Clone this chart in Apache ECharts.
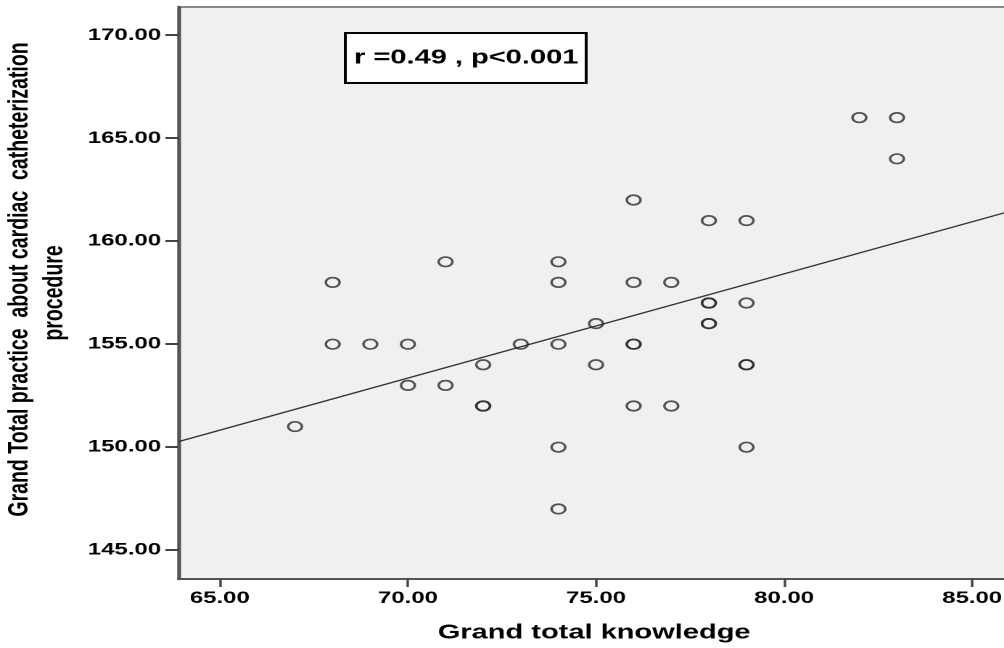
<!DOCTYPE html>
<html>
<head>
<meta charset="utf-8">
<script src="https://cdn.jsdelivr.net/npm/echarts@6/dist/echarts.min.js"></script>
<style>
  html, body { margin: 0; padding: 0; background: #fff; overflow: hidden; }
  /* the source picture is a horizontally stretched SPSS plot, so draw narrow and stretch */
  #main { width: 692px; height: 648px; transform: scaleX(1.4509); transform-origin: 0 0; }
</style>
</head>
<body>
<div id="main"></div>
<script>
const knowledge = [67, 68, 68, 69, 70, 70, 71, 71, 72, 72, 72, 73, 74, 74, 74, 74, 74, 75, 75,
  76, 76, 76, 76, 76, 77, 77, 78, 78, 78, 78, 78, 79, 79, 79, 79, 79, 82, 83, 83]
const practice = [151, 158, 155, 155, 155, 153, 159, 153, 154, 152, 152, 155, 159, 158, 155, 150, 147, 156, 154,
  162, 158, 155, 155, 152, 158, 152, 161, 157, 157, 156, 156, 161, 157, 154, 154, 150, 166, 166, 164]

// fit line, end points
const fitX = [63.9, 86]
const fitY = [150.27, 161.45]

const xTicks = [65, 70, 75, 80, 85]
const yTicks = [145, 150, 155, 160, 165, 170]

const annotation = 'r =0.49 , p<0.001'

const font = "'Liberation Sans', Arial, sans-serif"

const chart = echarts.init(document.getElementById('main'), null, { devicePixelRatio: 2 })

const option = {
  animation: false,
  title: {
    text: annotation,
    left: 238,
    top: 33,
    padding: [14, 6],
    borderWidth: 2,
    borderColor: '#000',
    backgroundColor: '#fff',
    textStyle: { fontFamily: font, fontSize: 20, fontWeight: 'bold', color: '#000', lineHeight: 22 }
  },
  grid: {
    left: 123,
    right: -4,
    top: 7,
    bottom: 69,
    containLabel: false,
    outerBoundsMode: 'none',
    show: true,
    backgroundColor: '#f0f0f0',
    borderColor: '#666',
    borderWidth: 1.5
  },
  xAxis: {
    type: 'value',
    min: 63.9,
    max: 86,
    name: 'Grand total knowledge',
    nameLocation: 'middle',
    nameGap: 44,
    nameTextStyle: { fontFamily: font, fontSize: 20, fontWeight: 'bold', color: '#000' },
    axisLine: { show: true, lineStyle: { color: '#555', width: 2 } },
    axisTick: { show: true, customValues: xTicks, length: 8, lineStyle: { color: '#444', width: 1.7 } },
    axisLabel: {
      customValues: xTicks,
      margin: 11,
      fontFamily: font,
      fontSize: 16.5,
      fontWeight: 'bold',
      color: '#000',
      formatter: v => v.toFixed(2)
    },
    splitLine: { show: false }
  },
  yAxis: {
    type: 'value',
    min: 143.6,
    max: 171.37,
    name: '     Grand Total practice  about cardiac  catheterization\nprocedure',
    nameLocation: 'middle',
    nameGap: 73,
    nameTextStyle: { fontFamily: font, fontSize: 19.5, fontWeight: 'bold', color: '#000', lineHeight: 24 },
    axisLine: { show: true, lineStyle: { color: '#555', width: 2.5 } },
    axisTick: { show: true, customValues: yTicks, length: 9, lineStyle: { color: '#444', width: 2 } },
    axisLabel: {
      customValues: yTicks,
      margin: 12,
      fontFamily: font,
      fontSize: 16.5,
      fontWeight: 'bold',
      color: '#000',
      formatter: v => v.toFixed(2)
    },
    splitLine: { show: false }
  },
  series: [
    {
      type: 'line',
      data: fitX.map((x, i) => [x, fitY[i]]),
      showSymbol: false,
      symbol: 'none',
      lineStyle: { color: '#333', width: 1.3 },
      z: 2
    },
    {
      type: 'scatter',
      data: knowledge.map((x, i) => [x, practice[i]]),
      symbol: 'circle',
      symbolSize: 9.5,
      itemStyle: { color: 'rgba(0,0,0,0)', borderColor: '#2a2a2a', borderWidth: 1.7 },
      z: 3
    }
  ]
}

chart.setOption(option)
</script>
</body>
</html>
